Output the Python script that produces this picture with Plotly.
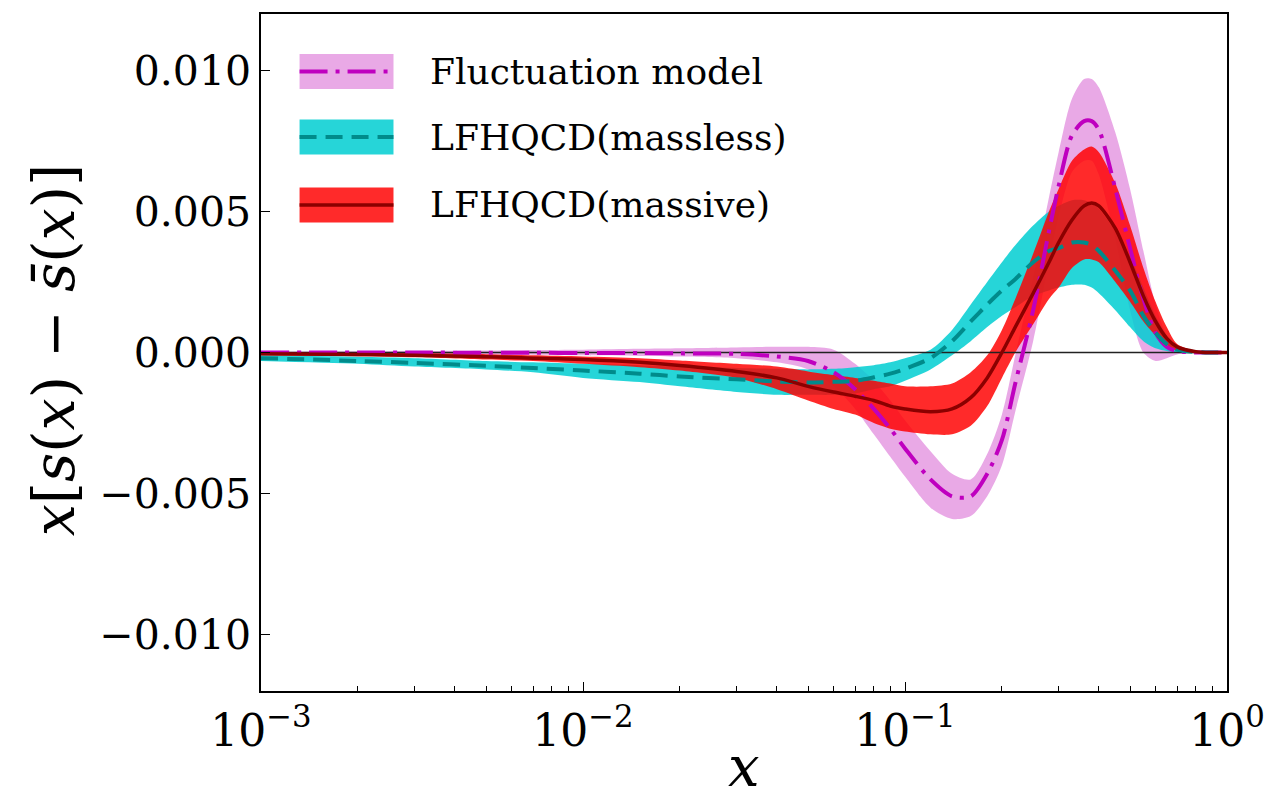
import plotly.graph_objects as go

# ---------------- data ----------------
x_vals = [0.001, 0.002, 0.003, 0.005, 0.007, 0.01, 0.015, 0.02, 0.03, 0.04,
          0.05, 0.06, 0.07, 0.08, 0.09, 0.1, 0.12, 0.14, 0.16, 0.18,
          0.2, 0.22, 0.25, 0.28, 0.3, 0.33, 0.36, 0.38, 0.4, 0.45,
          0.5, 0.55, 0.6, 0.65, 0.7, 0.8, 0.9, 1.0]

# Fluctuation model
fluc_mid = [0.0, 0.0, 0.0, -0.00001, -0.00001, -0.00002, -0.00002, -0.00003, -0.00005, -0.00014,
            -0.0003, -0.0007, -0.0013, -0.0020, -0.0027, -0.0034, -0.0045, -0.0051, -0.0051, -0.0043,
            -0.0031, -0.0011, 0.0015, 0.0043, 0.0059, 0.0077, 0.0082, 0.0082, 0.0079, 0.0058,
            0.0037, 0.0019, 0.0007, 0.0002, 0.00005, 0.0, 0.0, 0.0]
fluc_lo = [-0.00003, -0.00004, -0.00005, -0.00007, -0.00008, -0.0001, -0.00012, -0.00014, -0.0002, -0.00035,
           -0.0006, -0.0012, -0.0020, -0.0029, -0.0037, -0.0044, -0.0055, -0.0059, -0.0058, -0.0051,
           -0.0040, -0.0021, 0.0004, 0.0032, 0.0048, 0.0064, 0.0068, 0.0068, 0.0063, 0.0040,
           0.0015, 0.0000, -0.0003, -0.0002, -0.00007, 0.0, 0.0, 0.0]
fluc_hi = [0.00003, 0.00004, 0.00005, 0.00007, 0.00009, 0.0001, 0.00013, 0.00015, 0.00018, 0.0002,
           0.0002, 0.0001, -0.0004, -0.0010, -0.0017, -0.0024, -0.0035, -0.0043, -0.0045, -0.0036,
           -0.0022, -0.0001, 0.0027, 0.0055, 0.0071, 0.0090, 0.0097, 0.0097, 0.0094, 0.0078,
           0.0058, 0.0036, 0.0017, 0.0006, 0.0002, 0.00003, 0.0, 0.0]

# LFHQCD (massless)
ml_mid = [-0.0002, -0.0003, -0.00037, -0.00047, -0.00055, -0.00064, -0.00075, -0.00085, -0.00095, -0.00103,
          -0.00106, -0.00104, -0.0010, -0.00088, -0.00075, -0.00058, -0.0002, 0.0004, 0.0011, 0.0017,
          0.0022, 0.0026, 0.0032, 0.0036, 0.0037, 0.0039, 0.0039, 0.0038, 0.0036, 0.0029,
          0.0022, 0.0013, 0.0007, 0.0003, 0.0001, 0.00002, 0.0, 0.0]
ml_lo = [-0.0003, -0.0004, -0.0005, -0.0006, -0.0007, -0.0009, -0.00105, -0.0012, -0.0014, -0.0015,
         -0.0015, -0.0015, -0.00145, -0.0013, -0.0012, -0.0010, -0.0006, -0.0001, 0.0004, 0.0009,
         0.0013, 0.0016, 0.0020, 0.0022, 0.0023, 0.0024, 0.0024, 0.0023, 0.0021, 0.0015,
         0.0009, 0.0004, 0.00015, 0.00005, 0.0, 0.0, 0.0, 0.0]
ml_hi = [-0.0001, -0.00015, -0.0002, -0.0003, -0.00035, -0.0004, -0.00045, -0.0005, -0.00055, -0.00058,
         -0.0006, -0.00058, -0.00052, -0.00045, -0.00035, -0.0002, 0.0001, 0.0008, 0.0017, 0.0025,
         0.0032, 0.0038, 0.0045, 0.0050, 0.0052, 0.0054, 0.0054, 0.0053, 0.0051, 0.0043,
         0.0034, 0.0023, 0.0013, 0.0006, 0.0002, 0.00003, 0.0, 0.0]

# LFHQCD (massive)
mv_mid = [-0.00004, -0.00007, -0.0001, -0.00015, -0.0002, -0.00025, -0.00035, -0.00046, -0.00067, -0.0009,
          -0.0012, -0.0014, -0.00155, -0.0017, -0.0019, -0.0020, -0.0021, -0.0020, -0.0016, -0.0009,
          0.0, 0.0009, 0.0021, 0.0032, 0.0039, 0.0047, 0.0052, 0.0053, 0.0052, 0.0044,
          0.0032, 0.0020, 0.0011, 0.0005, 0.0002, 0.00003, 0.0, 0.0]
mv_lo = [-0.0001, -0.00013, -0.00017, -0.00025, -0.0003, -0.0004, -0.00052, -0.00064, -0.0009, -0.0013,
         -0.0017, -0.0020, -0.0022, -0.0025, -0.0027, -0.0028, -0.0029, -0.0029, -0.0026, -0.0019,
         -0.0009, 0.0, 0.0010, 0.0019, 0.0023, 0.0030, 0.0033, 0.0033, 0.0032, 0.0025,
         0.0018, 0.0011, 0.0006, 0.00025, 0.00007, 0.0, 0.0, 0.0]
mv_hi = [0.00003, 0.0, -0.00002, -0.00006, -0.0001, -0.00014, -0.0002, -0.00028, -0.0004, -0.0005,
         -0.00067, -0.0008, -0.0009, -0.0010, -0.0011, -0.0012, -0.0012, -0.0011, -0.0007, -0.0001,
         0.0008, 0.0019, 0.0035, 0.0050, 0.0058, 0.0068, 0.0072, 0.0073, 0.0071, 0.0060,
         0.0045, 0.0030, 0.0018, 0.0009, 0.0003, 0.00005, 0.00001, 0.0]

y_ticks = [-0.010, -0.005, 0.0, 0.005, 0.010]
y_ticktext = ["\u22120.010", "\u22120.005", "0.000", "0.005", "0.010"]
x_ticks = [0.001, 0.01, 0.1, 1.0]
x_ticktext = ["10<sup>\u22123</sup>", "10<sup>\u22122</sup>", "10<sup>\u22121</sup>", "10<sup>0</sup>"]
x_minor = [m * 10.0 ** e for e in (-3, -2, -1) for m in range(2, 10)]

legend_names = ["Fluctuation model", "LFHQCD(massless)", "LFHQCD(massive)"]

# ---------------- styles ----------------
FONT = "DejaVu Serif"
band_cols = ["rgba(218,112,214,0.6)", "rgba(0,206,209,0.85)", "rgba(255,0,0,0.835)"]
line_cols = ["#bf00bf", "#008b8b", "#8b0000"]
line_dash = ["28px,8px,4px,8px", "17px,9px", "solid"]
line_w = [4, 4, 3.5]

fig = go.Figure()
SM = 0.8

bands = [(fluc_lo, fluc_hi), (ml_lo, ml_hi), (mv_lo, mv_hi)]
for (lo, hi), col in zip(bands, band_cols):
    fig.add_trace(go.Scatter(x=x_vals, y=lo, mode="lines", line=dict(width=0, shape="spline", smoothing=SM),
                             showlegend=False, hoverinfo="skip"))
    fig.add_trace(go.Scatter(x=x_vals, y=hi, mode="lines", fill="tonexty", fillcolor=col,
                             line=dict(width=0, shape="spline", smoothing=SM),
                             showlegend=False, hoverinfo="skip"))

# zero line
fig.add_trace(go.Scatter(x=[x_vals[0], x_vals[-1]], y=[0, 0], mode="lines",
                         line=dict(color="#222222", width=1.5), showlegend=False, hoverinfo="skip"))

mids = [fluc_mid, ml_mid, mv_mid]
for mid, col, dsh, w, name in zip(mids, line_cols, line_dash, line_w, legend_names):
    fig.add_trace(go.Scatter(x=x_vals, y=mid, mode="lines", name=name,
                             line=dict(color=col, width=w, dash=dsh, shape="spline", smoothing=SM),
                             showlegend=False))

# ---------------- manual legend ----------------
L, R, T, B = 261, 1238, 14, 691
W, H = R - L, B - T
def px(xp):
    return (xp - L) / W
def py(yp):
    return (B - yp) / H

centers = [71.5, 137, 205]
for i, cy in enumerate(centers):
    fig.add_shape(type="rect", xref="paper", yref="paper",
                  x0=px(300), x1=px(395), y0=py(cy + 17.5), y1=py(cy - 17.5),
                  fillcolor=band_cols[i], line=dict(width=0), layer="above")
    fig.add_shape(type="line", xref="paper", yref="paper",
                  x0=px(300), x1=px(395), y0=py(cy), y1=py(cy),
                  line=dict(color=line_cols[i], width=line_w[i], dash=line_dash[i]), layer="above")
    fig.add_annotation(xref="paper", yref="paper", x=px(430), y=py(cy), xanchor="left", yanchor="middle",
                       text=legend_names[i], showarrow=False,
                       font=dict(family=FONT, size=36, color="black"))

# axis titles
fig.add_annotation(xref="paper", yref="paper", x=px(52), y=py(350), xanchor="center", yanchor="middle",
                   text="<i>x</i>[<i>s</i>(<i>x</i>) \u2212 <i>s\u0304</i>(<i>x</i>)]", textangle=-90,
                   showarrow=False, font=dict(family=FONT, size=57, color="black"))
fig.add_annotation(xref="paper", yref="paper", x=px(750), y=py(766), xanchor="center", yanchor="middle",
                   text="<i>x</i>", showarrow=False, font=dict(family=FONT, size=56, color="black"))

fig.update_layout(
    width=1277, height=810,
    margin=dict(l=L, r=1277 - R, t=T, b=810 - B),
    paper_bgcolor="white", plot_bgcolor="white",
    showlegend=False,
    font=dict(family=FONT, color="black"),
)
fig.update_xaxes(type="log", range=[-3, 0], tickvals=x_ticks, ticktext=x_ticktext,
                 ticks="inside", ticklen=9, tickwidth=1.3, tickcolor="black",
                 minor=dict(ticks="inside", ticklen=5, tickwidth=1, tickcolor="black", tickvals=x_minor),
                 showline=True, linecolor="black", linewidth=1.5, mirror=True,
                 showgrid=False, zeroline=False,
                 tickfont=dict(family=FONT, size=44, color="black"))
fig.update_yaxes(range=[-0.012, 0.012], tickvals=y_ticks, ticktext=y_ticktext,
                 ticks="inside", ticklen=9, tickwidth=1.3, tickcolor="black",
                 showline=True, linecolor="black", linewidth=1.5, mirror=True,
                 showgrid=False, zeroline=False,
                 tickfont=dict(family=FONT, size=41, color="black"))

fig.write_html("out.html")
